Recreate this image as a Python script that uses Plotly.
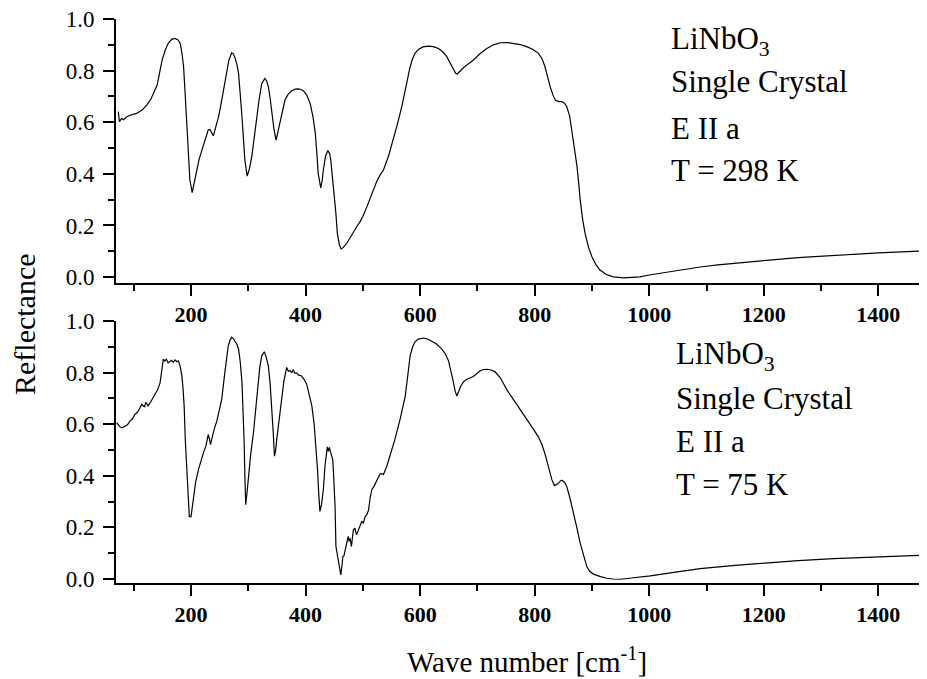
import plotly.graph_objects as go

# the page body has an 8 px margin, so the figure is drawn 8 px smaller and all
# positions below are given in screen pixels and shifted by OFF
OFF = 8
W, H = 927 - OFF, 679 - OFF

# reflectance spectrum at 298 K (top panel)
wn_298 = [73, 75, 79, 82, 88, 95, 105, 115, 123, 130, 137, 141, 146, 150, 155, 160, 166, 172, 177, 181,
          184, 187, 190, 192.5, 195, 198, 202, 206, 210, 214, 219, 225, 230, 233, 236, 239, 243, 248, 252, 256,
          262, 266, 271, 274, 277, 280, 283, 286, 289, 292, 294, 298, 302, 306, 310, 315, 319, 323.5, 329, 332,
          335, 338, 341, 345, 348.5, 352, 355.5, 360, 364, 370, 376, 382, 387, 392, 396, 402, 408, 413, 417, 420,
          422, 426.5, 429, 431, 435, 439, 442, 444, 447, 450, 453, 455.5, 459, 462, 466, 472, 478, 483.5, 490, 495,
          500, 507, 515, 524, 530, 536, 545, 553, 560, 568, 573, 577, 582, 586, 591, 597, 605, 614.5, 623, 632,
          640, 646.6, 652, 658, 662, 665, 669, 675.6, 684, 693, 705, 716.5, 728, 740, 752, 763, 775, 786, 797, 806.6,
          813, 818, 822, 827, 832, 836, 842, 847.5, 852, 856, 861, 865, 870, 874, 877, 879.5, 884, 888, 894, 900,
          907, 914, 925, 937.6, 955, 970, 984, 1000, 1030, 1060, 1089, 1120, 1150, 1205, 1260, 1322, 1400, 1485]
r_298 = [0.641, 0.602, 0.615, 0.610, 0.621, 0.628, 0.634, 0.648, 0.667, 0.690, 0.725, 0.745, 0.802, 0.845, 0.880, 0.905, 0.921, 0.925, 0.920, 0.906,
         0.870, 0.815, 0.700, 0.583, 0.470, 0.376, 0.327, 0.370, 0.415, 0.455, 0.492, 0.530, 0.570, 0.572, 0.560, 0.547, 0.580, 0.621, 0.665, 0.712,
         0.789, 0.840, 0.869, 0.865, 0.848, 0.825, 0.789, 0.720, 0.621, 0.520, 0.453, 0.391, 0.420, 0.466, 0.540, 0.621, 0.690, 0.750, 0.770, 0.760,
         0.738, 0.695, 0.634, 0.570, 0.531, 0.565, 0.608, 0.655, 0.686, 0.710, 0.722, 0.728, 0.729, 0.727, 0.722, 0.705, 0.673, 0.620, 0.557, 0.470,
         0.402, 0.346, 0.375, 0.415, 0.470, 0.490, 0.478, 0.453, 0.390, 0.324, 0.245, 0.169, 0.125, 0.109, 0.115, 0.131, 0.155, 0.176, 0.198, 0.214,
         0.235, 0.272, 0.320, 0.369, 0.395, 0.415, 0.470, 0.531, 0.590, 0.660, 0.715, 0.764, 0.810, 0.841, 0.867, 0.882, 0.892, 0.895, 0.893, 0.886,
         0.872, 0.854, 0.830, 0.802, 0.790, 0.787, 0.797, 0.811, 0.826, 0.841, 0.866, 0.886, 0.900, 0.908, 0.909, 0.906, 0.901, 0.893, 0.882, 0.867,
         0.845, 0.815, 0.780, 0.738, 0.705, 0.686, 0.680, 0.680, 0.674, 0.660, 0.625, 0.570, 0.500, 0.428, 0.360, 0.298, 0.220, 0.169, 0.115, 0.079,
         0.048, 0.027, 0.010, 0.001, -0.003, -0.002, 0.001, 0.008, 0.019, 0.030, 0.039, 0.047, 0.054, 0.065, 0.075, 0.084, 0.094, 0.102]

# reflectance spectrum at 75 K (bottom panel)
wn_75 = [70, 73, 76, 80, 85, 89, 93.4, 98, 102, 106, 110, 114, 117, 119, 121, 125, 130, 137, 142, 146,
         149, 151.6, 154, 157, 160, 163, 166, 169, 172, 175, 178, 181, 184, 186, 188, 190, 192.5, 195, 197, 200,
         204, 208, 213, 217, 221.5, 226, 230, 232, 234, 236, 238, 241, 245, 249, 253.6, 259, 262, 265, 268, 271,
         274, 277, 280, 283, 286, 289, 291, 292.6, 294, 295.5, 298, 300, 304, 309, 313, 317.5, 320, 323.5, 328, 331,
         335, 338, 341, 343.5, 345.6, 347.5, 349.7, 354, 358.4, 362, 367, 370, 373, 376, 378.7, 381, 384.6, 388, 393, 397,
         402, 406, 411, 415, 418, 421, 423, 425, 428, 431, 434, 437, 438, 440, 441.5, 444, 447.5, 449, 451.5, 453,
         455, 457, 459, 461.5, 464, 465, 467, 470.7, 473, 474.5, 476, 478, 480, 483.5, 486, 489, 494, 498, 501, 504,
         507, 510, 512.7, 515.6, 520, 524, 530, 533, 536, 541.8, 545, 550.6, 556, 565, 574, 578, 582.5, 587, 591, 597,
         606, 613, 620, 628, 638, 644, 649.5, 653, 657, 661, 664, 667, 671, 676, 681.6, 693, 699, 705, 711, 716.5,
         724, 731, 740, 751, 763, 774.7, 786, 798, 806, 812.6, 818, 824, 830, 834.6, 840, 845, 847.5, 852, 856, 862,
         868, 874, 879.5, 885, 891, 896, 902.7, 915, 926, 937, 949, 965, 984, 1002, 1040, 1089, 1150, 1205, 1260, 1322,
         1400, 1485]
r_75 = [0.606, 0.596, 0.590, 0.586, 0.593, 0.598, 0.612, 0.622, 0.638, 0.645, 0.660, 0.677, 0.670, 0.668, 0.685, 0.671, 0.688, 0.716, 0.735, 0.761,
        0.805, 0.852, 0.845, 0.852, 0.838, 0.842, 0.848, 0.840, 0.849, 0.843, 0.845, 0.825, 0.787, 0.740, 0.670, 0.540, 0.411, 0.300, 0.242, 0.242,
        0.320, 0.375, 0.424, 0.458, 0.489, 0.515, 0.560, 0.545, 0.521, 0.540, 0.560, 0.585, 0.612, 0.650, 0.696, 0.800, 0.860, 0.904, 0.925, 0.937,
        0.932, 0.923, 0.910, 0.891, 0.840, 0.761, 0.650, 0.541, 0.400, 0.288, 0.340, 0.398, 0.480, 0.567, 0.660, 0.761, 0.820, 0.865, 0.881, 0.862,
        0.826, 0.760, 0.670, 0.570, 0.476, 0.495, 0.541, 0.620, 0.696, 0.765, 0.820, 0.805, 0.807, 0.800, 0.811, 0.798, 0.798, 0.790, 0.787, 0.775,
        0.755, 0.720, 0.670, 0.600, 0.515, 0.420, 0.330, 0.262, 0.290, 0.346, 0.440, 0.502, 0.512, 0.495, 0.510, 0.489, 0.463, 0.400, 0.281, 0.126,
        0.100, 0.080, 0.050, 0.016, 0.060, 0.087, 0.090, 0.139, 0.152, 0.165, 0.145, 0.158, 0.126, 0.191, 0.197, 0.171, 0.204, 0.223, 0.217, 0.242,
        0.249, 0.268, 0.314, 0.346, 0.362, 0.379, 0.407, 0.408, 0.405, 0.437, 0.460, 0.502, 0.541, 0.619, 0.709, 0.780, 0.865, 0.900, 0.919, 0.930,
        0.934, 0.930, 0.923, 0.912, 0.891, 0.872, 0.846, 0.815, 0.774, 0.730, 0.709, 0.725, 0.748, 0.765, 0.774, 0.785, 0.795, 0.807, 0.812, 0.813,
        0.810, 0.803, 0.780, 0.735, 0.695, 0.658, 0.620, 0.580, 0.553, 0.521, 0.485, 0.437, 0.385, 0.362, 0.368, 0.380, 0.383, 0.375, 0.359, 0.310,
        0.256, 0.195, 0.139, 0.090, 0.048, 0.030, 0.019, 0.009, 0.003, 0.000, -0.001, 0.003, 0.007, 0.012, 0.025, 0.040, 0.053, 0.063, 0.071, 0.079,
        0.087, 0.093]

x_ticks = [200, 400, 600, 800, 1000, 1200, 1400]
y_ticks = [0.0, 0.2, 0.4, 0.6, 0.8, 1.0]
panel_labels = [
    ["LiNbO<sub>3</sub>", "Single Crystal", "E II a", "T = 298 K"],
    ["LiNbO<sub>3</sub>", "Single Crystal", "E II a", "T = 75 K"],
]

SERIF = "Liberation Serif, Times New Roman, serif"

fig = go.Figure()
fig.add_trace(go.Scatter(x=wn_298, y=r_298, mode="lines", line=dict(color="black", width=1.2),
                         xaxis="x", yaxis="y", showlegend=False))
fig.add_trace(go.Scatter(x=wn_75, y=r_75, mode="lines", line=dict(color="black", width=1.2),
                         xaxis="x2", yaxis="y2", showlegend=False))


def px_x(p):
    # screen pixel -> paper fraction
    return (p - OFF) / W


def px_y(p):
    return 1 - (p - OFF) / H


x_common = dict(
    range=[69, 1485], tickvals=x_ticks, ticks="outside", ticklen=11, tickwidth=2, tickcolor="black",
    showline=True, linewidth=2, linecolor="black", showgrid=False, zeroline=False, automargin=False,
    ticklabeloverflow="allow",
    tickfont=dict(family=SERIF, size=22, color="black", weight="bold"),
    minor=dict(dtick=100, tick0=0, ticks="outside", ticklen=6, tickwidth=2, tickcolor="black"),
    domain=[px_x(116), 1],
)
y_common = dict(
    tickvals=y_ticks, tickformat=".1f", ticks="outside", ticklen=11, tickwidth=2, tickcolor="black",
    showline=True, linewidth=2, linecolor="black", showgrid=False, zeroline=False, automargin=False,
    ticklabeloverflow="allow", ticklabelstandoff=4,
    tickfont=dict(family=SERIF, size=23, color="black"),
    minor=dict(dtick=0.1, tick0=0, ticks="outside", ticklen=6, tickwidth=2, tickcolor="black"),
)

fig.update_layout(
    width=W, height=H,
    margin=dict(l=0, r=0, t=0, b=0, autoexpand=False),
    plot_bgcolor="white", paper_bgcolor="white",
    xaxis=dict(**x_common, anchor="y"),
    yaxis=dict(**y_common, range=[-0.023, 1.0], domain=[px_y(283), px_y(19)], anchor="x"),
    xaxis2=dict(**x_common, anchor="y2"),
    yaxis2=dict(**y_common, range=[-0.0155, 1.0], domain=[px_y(583), px_y(321)], anchor="x2"),
)

# panel text blocks
line_pos = [[41, 81, 128, 170], [356, 398, 441, 484]]
left_pos = [669, 674]
for k in range(2):
    for txt, yp in zip(panel_labels[k], line_pos[k]):
        fig.add_annotation(x=px_x(left_pos[k]), y=px_y(yp), xref="paper", yref="paper",
                           text=txt, showarrow=False, xanchor="left", yanchor="middle",
                           font=dict(family=SERIF, size=31, color="black"))

# axis titles
fig.add_annotation(x=px_x(24), y=px_y(324), xref="paper", yref="paper", text="Reflectance",
                   textangle=-90, showarrow=False, xanchor="center", yanchor="middle",
                   font=dict(family=SERIF, size=30, color="black"))
fig.add_annotation(x=px_x(527), y=px_y(660), xref="paper", yref="paper",
                   text="Wave number [cm<sup>-1</sup>]", showarrow=False,
                   xanchor="center", yanchor="middle",
                   font=dict(family=SERIF, size=29, color="black"))

fig.write_html("out.html")
